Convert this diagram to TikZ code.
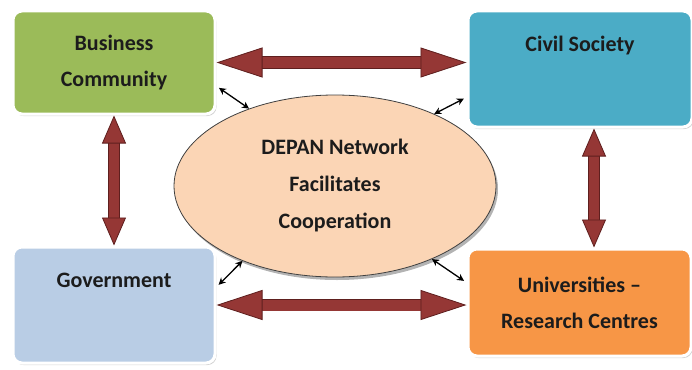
\documentclass[tikz,border=0pt]{standalone}
\usepackage{fontspec}
\setmainfont{Carlito}
\usetikzlibrary{shapes,arrows.meta,positioning,calc,shadows}
\definecolor{bizgreen}{HTML}{9BBB59}
\definecolor{civblue}{HTML}{4BACC6}
\definecolor{govblue}{HTML}{B9CDE5}
\definecolor{uniorange}{HTML}{F79646}
\definecolor{netpeach}{HTML}{FBD5B5}
\definecolor{arrowred}{HTML}{953735}
\definecolor{arrowdark}{HTML}{5E1F1E}
\definecolor{textdark}{HTML}{1C1C1C}
\tikzset{
	block/.style = {draw=white, line width=3pt, rounded corners=9pt, inner sep=0pt, align=center, text=textdark, font=\bfseries\fontsize{22}{36}\selectfont, drop shadow={shadow xshift=1.5pt, shadow yshift=-2pt, opacity=0.35}},
	toptext/.style = {anchor=base, yshift=-42pt, text=textdark, font=\bfseries\fontsize{22}{36}\selectfont},
	network/.style = {draw=black!75, fill=netpeach, ellipse, line width=0.8pt, minimum width=322pt, minimum height=182pt, align=center, text=textdark, font=\bfseries\fontsize{22}{37}\selectfont, drop shadow={shadow xshift=2pt, shadow yshift=-3pt, opacity=0.6}},
	htip/.tip = {Triangle[length=46pt, width=30pt, color=arrowdark, fill=arrowred, line width=0.8pt]},
	vtip/.tip = {Triangle[length=28pt, width=24pt, color=arrowdark, fill=arrowred, line width=0.8pt]},
	harrow/.style = {draw=arrowred, line width=11pt, htip-htip, preaction={draw=arrowdark, line width=12.6pt, -, shorten <=45pt, shorten >=45pt}},
	varrow/.style = {draw=arrowred, line width=10pt, vtip-vtip, preaction={draw=arrowdark, line width=11.6pt, -, shorten <=27pt, shorten >=27pt}},
	link/.style = {{Stealth[length=7pt, width=7pt]}-{Stealth[length=7pt, width=7pt]}, line width=1.3pt, black, shorten <=3pt}
}
\begin{document}
\begin{tikzpicture}[x=1pt, y=-1pt]
		\useasboundingbox (0,0) rectangle (692,369);
		% the four partners
		\node [block, fill=bizgreen, minimum width=202pt, minimum height=103pt] (biz) at (114,62.5) {Business\\Community};
		\node [block, fill=civblue, minimum width=224pt, minimum height=116pt, label={[toptext]north:Civil Society}] (civ) at (580,69) {};
		\node [block, fill=govblue, minimum width=202pt, minimum height=116pt, label={[toptext]north:Government}] (gov) at (114,305) {};
		\node [block, fill=uniorange, minimum width=223pt, minimum height=107pt] (uni) at (579.5,302.5) {Universities --\\Research Centres};
		% the network in the middle
		\node [network] (net) at (335,186) {DEPAN Network\\Facilitates\\Cooperation};
		% big arrows between partners
		\draw [harrow] (biz.east) -- (biz.east -| civ.west);
		\draw [harrow] (gov.east) -- (gov.east -| uni.west);
		\draw [varrow] (biz.south) -- (biz.south |- gov.north);
		\draw [varrow] ([xshift=14pt]civ.south) -- ([xshift=14pt]civ.south |- uni.north);
		% links to the network
		\draw [link] (biz.-13) -- (net.138);
		\draw [link] (civ.-166) -- (net.36);
		\draw [link] (gov.10) -- (net.-141);
		\draw [link] (uni.170) -- (net.-37);
	    \end{tikzpicture}
\end{document}
